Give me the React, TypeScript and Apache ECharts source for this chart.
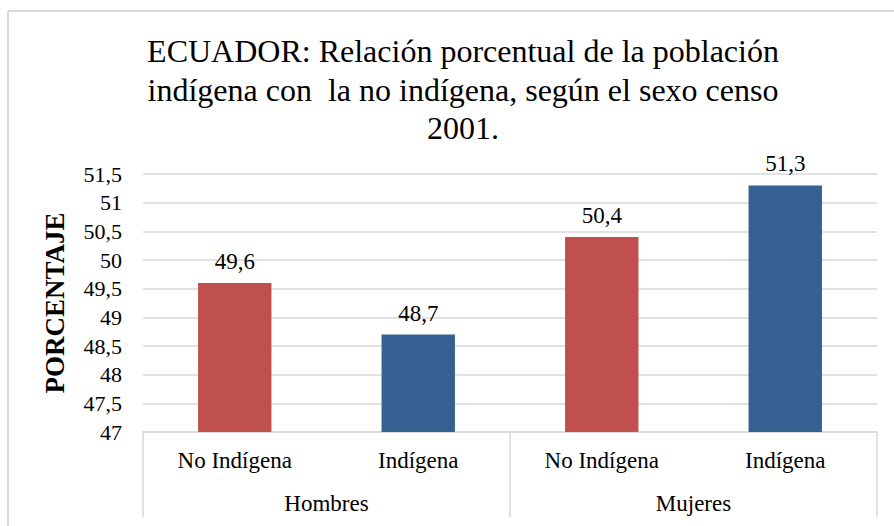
import React, { useEffect, useRef } from "react";
import * as echarts from "echarts";

const titleText =
  "ECUADOR: Relación porcentual de la población\nindígena con  la no indígena, según el sexo censo\n2001.";
const categories = ["No Indígena", "Indígena", "No Indígena", "Indígena"];
const groups = ["Hombres", "Mujeres"];
const values = [49.6, 48.7, 50.4, 51.3];
const barColors = ["#C0504D", "#376092", "#C0504D", "#376092"];
const yAxisName = "PORCENTAJE";

const FONT = "Times New Roman";
const GRID = "#D9D9D9";

export default function App() {
  const ref = useRef<HTMLDivElement>(null);
  useEffect(() => {
    if (!ref.current) return;
    const chart = echarts.init(ref.current, undefined, { renderer: "svg" });
    chart.setOption({
      animation: false,
      textStyle: { fontFamily: FONT },
      title: {
        text: titleText,
        left: 458,
        textAlign: "center",
        top: 27,
        textStyle: {
          fontFamily: FONT,
          fontWeight: "normal",
          fontSize: 32,
          lineHeight: 38.5,
          color: "#000",
        },
      },
      graphic: [
        {
          type: "line",
          shape: { x1: 8, y1: 11, x2: 894, y2: 11 },
          style: { stroke: GRID, lineWidth: 2 },
        },
        {
          type: "line",
          shape: { x1: 8, y1: 11, x2: 8, y2: 526 },
          style: { stroke: GRID, lineWidth: 2 },
        },
      ],
      grid: { left: 143, right: 17, top: 174, bottom: 94, containLabel: false },
      xAxis: [
        {
          type: "category",
          data: categories,
          position: "bottom",
          axisLine: { show: true, lineStyle: { color: GRID, width: 1.5 } },
          axisTick: { show: false },
          axisLabel: {
            fontFamily: FONT,
            fontSize: 23,
            color: "#000",
            margin: 17,
            interval: 0,
          },
        },
        {
          type: "category",
          data: groups,
          position: "bottom",
          axisLine: { show: false },
          axisTick: { show: true, length: 85, lineStyle: { color: GRID, width: 1.5 } },
          axisLabel: {
            fontFamily: FONT,
            fontSize: 23,
            color: "#000",
            margin: 60,
            interval: 0,
          },
          splitLine: { show: false },
        },
      ],
      yAxis: {
        type: "value",
        min: 47,
        max: 51.5,
        interval: 0.5,
        name: yAxisName,
        nameLocation: "middle",
        nameRotate: 90,
        nameGap: 75,
        nameTextStyle: {
          fontFamily: FONT,
          fontSize: 27,
          fontWeight: "bold",
          color: "#000",
        },
        axisLine: { show: false },
        axisTick: { show: false },
        axisLabel: {
          fontFamily: FONT,
          fontSize: 22,
          color: "#000",
          margin: 21,
          formatter: (v: number) => String(v).replace(".", ","),
        },
        splitLine: { show: true, lineStyle: { color: GRID, width: 1.5 } },
      },
      series: [
        {
          type: "bar",
          xAxisIndex: 0,
          barWidth: "40%",
          data: values.map((v, i) => ({ value: v, itemStyle: { color: barColors[i] } })),
          label: {
            show: true,
            position: "top",
            distance: 10,
            fontFamily: FONT,
            fontSize: 23,
            color: "#000",
            formatter: (p: any) => String(p.value).replace(".", ","),
          },
        },
      ],
    });
    return () => chart.dispose();
  }, []);
  return (
    <div
      ref={ref}
      style={{
        position: "fixed",
        left: 0,
        top: 0,
        width: 894,
        height: 526,
        background: "#fff",
        fontFamily: "'Liberation Serif', serif",
      }}
    />
  );
}
